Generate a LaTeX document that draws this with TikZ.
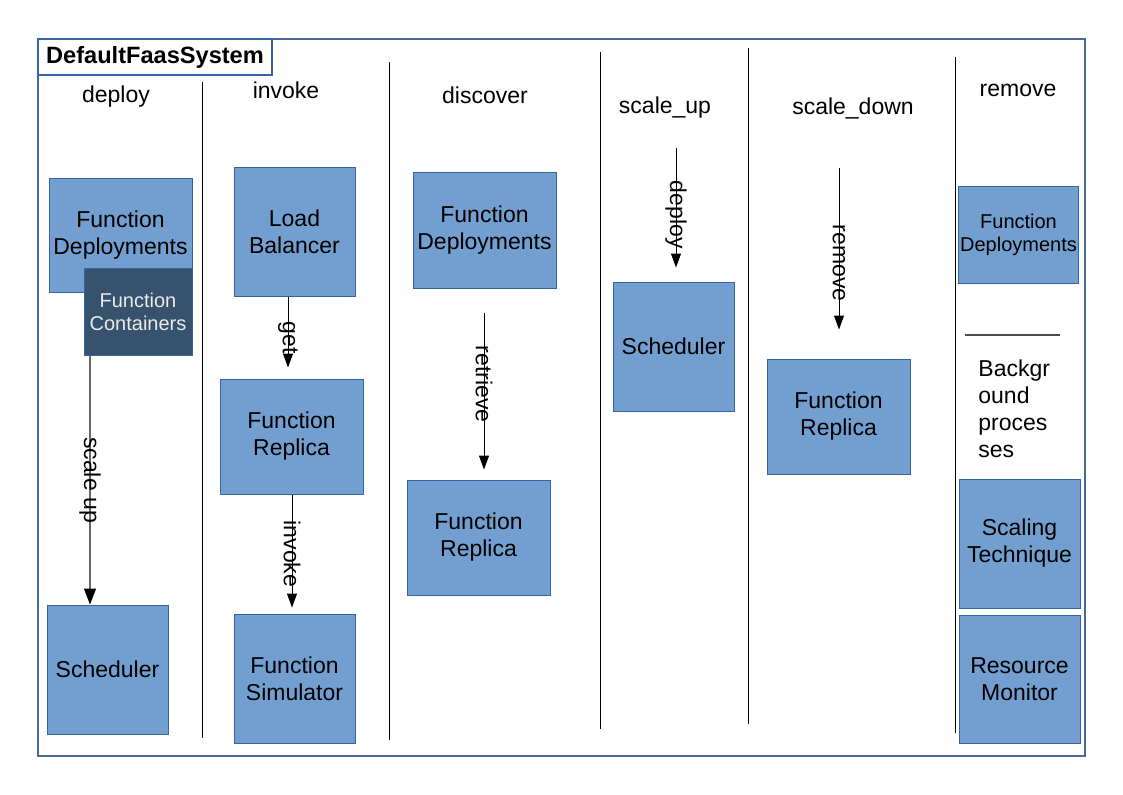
\documentclass[tikz,border=0pt]{standalone}
\usepackage{fontspec}
\setmainfont{Liberation Sans}
\usetikzlibrary{arrows.meta}
\definecolor{boxfill}{RGB}{114,159,207}
\definecolor{boxline}{RGB}{52,101,164}
\definecolor{darkfill}{RGB}{54,82,108}
\definecolor{framecol}{RGB}{70,105,150}
\definecolor{lighttext}{RGB}{235,235,235}

\tikzset{
  txt/.style={font=\fontsize{11.5}{13.5}\selectfont},
  block/.style={txt, draw=boxline, fill=boxfill, align=center, inner sep=1pt, line width=0.5pt},
  wide/.style={block, minimum width=71.5pt, minimum height=57.5pt},
  square/.style={block, minimum width=60.5pt, minimum height=64.5pt},
  flow/.style={-{Triangle[length=7pt,width=5pt,color=black]}, line width=0.5pt},
  lbl/.style={txt, rotate=-90, inner sep=0pt},
  sep/.style={line width=0.5pt}
}

\begin{document}
\begin{tikzpicture}[x=0.5pt,y=-0.5pt]
\useasboundingbox (0,0) rectangle (1123,794);
\draw[framecol, line width=0.6pt] (38,39) rectangle (1085,756);
\node[draw=boxline, fill=white, line width=1.1pt, minimum width=117pt, minimum height=18pt, inner sep=0pt, font=\fontsize{11.8}{13.5}\selectfont\bfseries] (title) at (155,57) {DefaultFaasSystem};

% columns
\draw[sep] (202,82) -- (202,738);
\draw[sep] (389,62) -- (389,740);
\draw[sep] (600,52) -- (600,729);
\draw[sep] (748,48) -- (748,724);
\draw[sep] (955,57) -- (955,733);

\node[txt] (hdeploy) at (116,97) {deploy};
\node[txt] (hinvoke) at (286,90) {invoke};
\node[txt] (hdiscover) at (485,95) {discover};
\node[txt] (hscaleup) at (665,108) {scale\_up};
\node[txt] (hscaledown) at (853,108) {scale\_down};
\node[txt] (hremove) at (1018,90) {remove};

% deploy
\node[wide, minimum height=57pt] (depFD) at (120.5,235) {Function\\Deployments};
\node[block, fill=darkfill, text=lighttext, font=\fontsize{10}{11.5}\selectfont, minimum width=54pt, minimum height=43.5pt] (depFC) at (138,311.5) {Function\\Containers};
\node[square] (depSched) at (107.5,669.5) {Scheduler};
\coordinate (su) at (90,0);
\draw[flow, draw=gray!80!black, line width=0.75pt, -{Triangle[length=8pt,width=6pt,color=black]}] (depFC.south -| su) -- node[lbl] {scale up} (depSched.north -| su);

% invoke
\node[square] (invLB) at (294.5,231.5) {Load\\Balancer};
\node[wide] (invFR) at (291.5,436.5) {Function\\Replica};
\node[square] (invFS) at (294.5,678.5) {Function\\Simulator};
\coordinate (gx) at (288,0);
\coordinate (ix) at (292,0);
\draw[flow, shorten >=5.5pt] (invLB.south -| gx) -- node[lbl] {get} (invFR.north -| gx);
\draw[flow, shorten >=3pt] (invFR.south -| ix) -- node[lbl] {invoke} (invFS.north -| ix);

% discover
\node[wide, minimum height=58pt] (disFD) at (484.5,230) {Function\\Deployments};
\node[wide] (disFR) at (478.5,537.5) {Function\\Replica};
\coordinate (rx) at (484,0);
\draw[flow, shorten <=12pt, shorten >=5pt] (disFD.south -| rx) -- node[lbl] {retrieve} (disFR.north -| rx);

% scale_up
\node[square] (upSched) at (673.5,346.5) {Scheduler};
\coordinate (upstart) at (676,148);
\draw[flow, shorten >=7pt] (upstart) -- node[lbl] {deploy} (upSched.north -| upstart);

% scale_down
\node[wide] (downFR) at (838.5,416.5) {Function\\Replica};
\coordinate (downstart) at (839,168);
\draw[flow, shorten >=14.5pt] (downstart) -- node[lbl] {remove} (downFR.north -| downstart);

% remove
\node[block, font=\fontsize{10}{11.5}\selectfont, minimum width=59.5pt, minimum height=48.5pt] (remFD) at (1018.5,234.5) {Function\\Deployments};
\draw[line width=0.6pt, black!70] (965,335) -- (1060,335);
\node[txt, align=left, anchor=north west, inner sep=0pt] (bgproc) at (978,359) {Backgr\\ound\\proces\\ses};
\node[square] (remST) at (1019.5,543.5) {Scaling\\Technique};
\node[square, minimum height=64pt] (remRM) at (1019.5,679) {Resource\\Monitor};
\end{tikzpicture}
\end{document}
